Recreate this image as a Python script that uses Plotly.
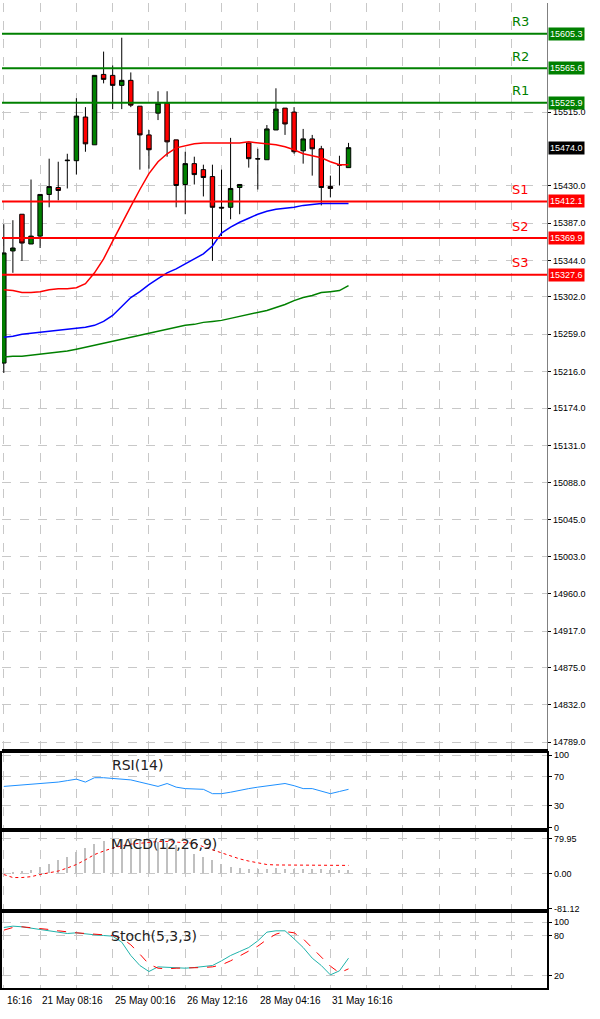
import plotly.graph_objects as go

opens  = [15225.8,15355.0,15397.3,15363.0,15372.1,15420.1,15428.1,15459.0,15459.0,15509.3,15477.3,15558.4,15557.3,15545.8,15551.6,15521.8,15488.7,15513.8,15525.3,15483.0,15431.6,15455.6,15448.7,15440.7,15405.3,15405.3,15428.1,15479.5,15461.3,15460.1,15494.4,15519.6,15515.0,15470.4,15484.1,15472.7,15429.3,15454.4,15451.0]
highs  = [15385.8,15390.4,15397.3,15437.3,15420.1,15461.3,15457.8,15467.0,15531.0,15520.7,15557.3,15584.7,15568.7,15600.7,15560.7,15521.8,15494.4,15539.0,15539.0,15483.0,15469.3,15463.6,15454.4,15454.4,15448.7,15485.3,15431.6,15479.5,15472.7,15500.1,15542.4,15519.6,15520.7,15495.6,15488.7,15476.1,15441.8,15464.7,15479.5]
lows   = [15214.4,15329.8,15343.5,15363.0,15358.4,15405.3,15413.3,15427.0,15443.0,15469.3,15477.3,15548.1,15518.4,15518.4,15520.7,15448.7,15449.8,15505.8,15463.6,15405.3,15397.3,15431.6,15417.8,15343.5,15372.1,15391.5,15397.3,15451.0,15425.8,15460.1,15494.4,15488.7,15467.0,15455.6,15441.8,15407.5,15416.7,15430.4,15451.0]
closes = [15352.7,15358.4,15364.1,15372.1,15420.1,15429.2,15424.7,15459.5,15510.4,15478.4,15557.3,15552.7,15545.8,15551.6,15523.0,15488.7,15471.6,15525.3,15480.7,15430.4,15455.6,15443.0,15439.6,15405.3,15404.5,15427.0,15431.6,15461.3,15461.0,15495.6,15518.4,15501.3,15469.3,15484.1,15472.7,15428.1,15427.0,15454.0,15474.0]
ma_red = [15310.4,15309.3,15307.0,15307.0,15308.1,15310.4,15311.5,15311.5,15312.7,15317.3,15329.8,15345.8,15366.4,15387.0,15406.4,15425.8,15444.1,15457.8,15467.0,15473.8,15476.1,15478.4,15479.5,15479.5,15479.5,15479.5,15479.5,15480.7,15479.5,15478.4,15477.3,15475.0,15471.6,15467.0,15464.7,15462.4,15457.8,15454.4,15454.4]
ma_blue = [15255.6,15256.7,15259.0,15260.1,15261.3,15262.4,15263.5,15264.7,15265.8,15267.0,15269.3,15273.8,15280.7,15291.0,15301.3,15308.1,15316.1,15323.0,15329.8,15334.4,15340.1,15345.8,15351.6,15360.7,15375.5,15382.4,15388.1,15392.7,15397.3,15400.7,15403.0,15404.1,15405.3,15407.5,15408.7,15409.8,15409.8,15409.8,15409.8]
ma_green = [15232.7,15233.8,15233.8,15235.0,15236.1,15237.3,15238.4,15239.6,15241.8,15244.1,15246.4,15248.7,15251.0,15253.3,15255.6,15257.8,15260.1,15262.4,15264.7,15267.0,15269.3,15270.4,15272.7,15273.8,15275.0,15277.3,15279.6,15281.8,15284.1,15286.4,15289.8,15293.3,15297.8,15301.3,15303.6,15307.0,15308.1,15309.3,15315.0]
rsi = [57,58,59,60,61,62,63,65,67,63,69,69,68,68,66,63,60,57,61,56,54,54,53,47,47,49,52,54,56,58,60,61,58,54,54,50,47,50,53]
macd_hist = [0,3,5,8,15,22,30,38,48,58,68,75,78,78,78,76,74,72,70,66,58,45,38,30,22,15,12,10,10,10,11,10,10,10,9,9,8,8,8]
macd_signal = [-2,-9,-9,-7,-2,2,6,13,21,32,44,52,59,64,68,70,72,74,74,73,72,70,62,55,48,40,34,29,25,21,20,20,20,20,19,19,19,19,19]
stoch_k = [92,94,93,91,90,88,86,83,84,82,81,80,79,70,50,35,26,33,32,31,31,32,33,35,42,50,56,62,72,85,87,87,75,62,46,35,21,27,46]
stoch_d = [88,92,93,92,91,89,87,85,84,83,82,81,80,76,66,52,37,31,30,31,31,31,32,33,36,42,49,56,64,74,82,86,84,75,61,47,34,24,30]
price_ticks = [15515.0,15430.0,15387.0,15344.0,15302.0,15259.0,15216.0,15174.0,15131.0,15088.0,15045.0,15003.0,14960.0,14917.0,14875.0,14832.0,14789.0]
levels = [("R3",15605.3,"#008000"),("R2",15565.6,"#008000"),("R1",15525.9,"#008000"),
          ("S1",15412.1,"#ff0000"),("S2",15369.9,"#ff0000"),("S3",15327.6,"#ff0000")]
last_price = 15474.0
date_labels = ["16:16","21 May 08:16","25 May 00:16","26 May 12:16","28 May 04:16","31 May 16:16"]
date_pos = [-0.3,4,12,20,28,36]

x = list(range(len(opens)))
W, H = 600, 1019
XR = [-0.2, 59.9]
xd = [0, 547/W]
def dom(top, bot):
    return [1-bot/H, 1-top/H]
def xpaper(v):
    return xd[0] + (v-XR[0])/(XR[1]-XR[0])*(xd[1]-xd[0])

fig = go.Figure()
fig.add_trace(go.Candlestick(x=x, open=opens, high=highs, low=lows, close=closes,
    increasing=dict(line=dict(color="#000000", width=1), fillcolor="#008000"),
    decreasing=dict(line=dict(color="#000000", width=1), fillcolor="#ff0000"),
    whiskerwidth=0, xaxis="x", yaxis="y", showlegend=False))
fig.add_trace(go.Scatter(x=x, y=ma_red, mode="lines", line=dict(color="#ff0000", width=1.5), xaxis="x", yaxis="y"))
fig.add_trace(go.Scatter(x=x, y=ma_blue, mode="lines", line=dict(color="#0000ff", width=1.5), xaxis="x", yaxis="y"))
fig.add_trace(go.Scatter(x=x, y=ma_green, mode="lines", line=dict(color="#008000", width=1.5), xaxis="x", yaxis="y"))
fig.add_trace(go.Scatter(x=x, y=rsi, mode="lines", line=dict(color="#1e90ff", width=1), xaxis="x2", yaxis="y2"))
fig.add_trace(go.Bar(x=x, y=macd_hist, width=0.12, marker=dict(color="#c0c0c0", line=dict(width=0)), xaxis="x3", yaxis="y3"))
fig.add_trace(go.Scatter(x=x, y=macd_signal, mode="lines", line=dict(color="#ff0000", width=1, dash="dot"), xaxis="x3", yaxis="y3"))
fig.add_trace(go.Scatter(x=x, y=stoch_k, mode="lines", line=dict(color="#20b2aa", width=1), xaxis="x4", yaxis="y4"))
fig.add_trace(go.Scatter(x=x, y=stoch_d, mode="lines", line=dict(color="#ff0000", width=1, dash="dash"), xaxis="x4", yaxis="y4"))

for name, val, col in levels:
    fig.add_shape(type="line", xref="x", yref="y", x0=XR[0], x1=XR[1], y0=val, y1=val, line=dict(color=col, width=2))
    fig.add_annotation(xref="paper", yref="y", x=520/W, y=val, text=name, showarrow=False, yshift=12,
                       font=dict(color=col, size=13, family="DejaVu Sans"), xanchor="center")
    fig.add_annotation(xref="paper", yref="y", x=548/W, y=val, text=f"{val:.1f}", showarrow=False,
                       xanchor="left", bgcolor=col, font=dict(color="white", size=9, family="Liberation Sans"), borderpad=1)
fig.add_annotation(xref="paper", yref="y", x=548/W, y=last_price, text=f"{last_price:.1f}", showarrow=False,
                   xanchor="left", bgcolor="#000000", font=dict(color="white", size=9, family="Liberation Sans"), borderpad=1)

for t, tx, ty in [("RSI(14)", 108, 768), ("MACD(12,26,9)", 107, 848), ("Stoch(5,3,3)", 107, 940)]:
    fig.add_annotation(xref="paper", yref="paper", x=tx/W, y=1-ty/H, text=t, showarrow=False,
                       xanchor="left", yanchor="middle", font=dict(size=14, color="#222", family="DejaVu Sans"))
for lab, p in zip(date_labels, date_pos):
    fig.add_annotation(xref="paper", yref="paper", x=max(xpaper(p), 0.005), y=1-1005/H, text=lab, showarrow=False,
                       xanchor="left", yanchor="middle", font=dict(size=10, color="#000", family="Liberation Sans"))

grid = dict(showgrid=True, gridcolor="#c8c8c8", griddash="dash", gridwidth=1)
xcommon = dict(range=XR, domain=xd, tick0=0, dtick=4, showticklabels=False, ticks="", zeroline=False, **grid)
ycommon = dict(side="right", zeroline=False, ticks="outside", ticklen=3, tickcolor="#000",
               tickfont=dict(size=9, family="Liberation Sans", color="#000"), **grid)
fig.update_layout(
    width=W, height=H, margin=dict(l=0, r=0, t=0, b=0), paper_bgcolor="white", plot_bgcolor="white",
    showlegend=False, bargap=0,
    xaxis=dict(anchor="y", rangeslider=dict(visible=False), showline=True, linecolor="#000", linewidth=2, mirror=False, **xcommon),
    xaxis2=dict(anchor="y2", matches="x", showline=True, linecolor="#000", linewidth=2, mirror=True, **xcommon),
    xaxis3=dict(anchor="y3", matches="x", showline=True, linecolor="#000", linewidth=2, mirror=True, **xcommon),
    xaxis4=dict(anchor="y4", matches="x", showline=True, linecolor="#000", linewidth=2, mirror=True, **xcommon),
    yaxis=dict(anchor="x", domain=dom(0, 752), range=[14781, 15640.7], tickvals=price_ticks,
               ticktext=[f"{v:.1f}" for v in price_ticks], showline=True, linecolor="#808080", linewidth=1, **ycommon),
    yaxis2=dict(anchor="x2", domain=dom(756, 832), range=[-1, 103], tickvals=[100, 70, 30, 0],
                showline=True, linecolor="#000", linewidth=2, mirror=True, **ycommon),
    yaxis3=dict(anchor="x3", domain=dom(836, 913), range=[-81.12, 95], tickvals=[79.95, 0, -81.12],
                ticktext=["79.95", "0.00", "-81.12"], showline=True, linecolor="#000", linewidth=2, mirror=True, **ycommon),
    yaxis4=dict(anchor="x4", domain=dom(917, 993), range=[1, 114], tickvals=[100, 80, 20, 0],
                showline=True, linecolor="#000", linewidth=2, mirror=True, **ycommon),
)
fig.write_html("out.html", config={"displayModeBar": False},
               post_script="document.body.style.margin='0';document.body.style.overflow='hidden';")
